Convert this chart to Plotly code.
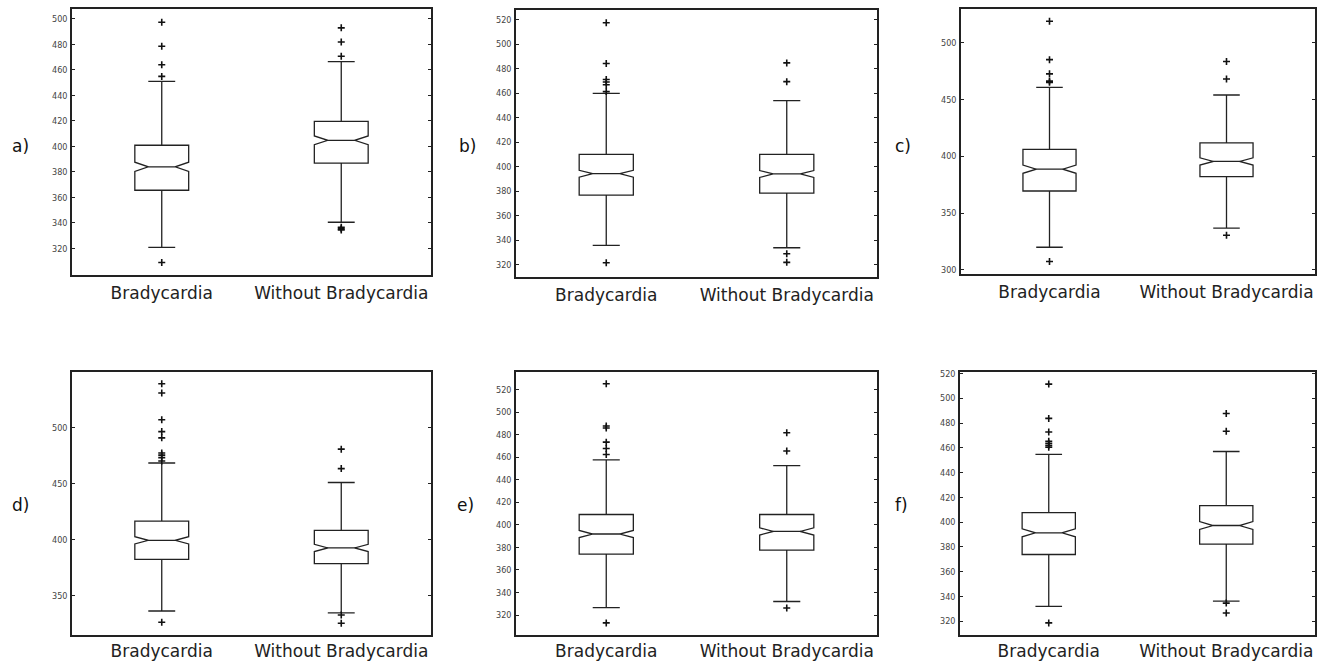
import plotly.graph_objects as go

W, H = 1319, 661

categories = ["Bradycardia", "Without Bradycardia"]
panel_labels = ["a)", "b)", "c)", "d)", "e)", "f)"]

# ---- panel a ----
a_q1 = [365.6, 386.9]
a_median = [384.0, 404.8]
a_q3 = [400.9, 419.6]
a_lower = [320.8, 340.5]
a_upper = [451.0, 466.5]
a_notch = [3.6, 3.4]
a_out_brady = [497.4, 478.5, 464.0, 454.9, 309.0]
a_out_without = [493.0, 481.9, 470.7, 336.6, 335.5, 334.5]
a_ticks = [320, 340, 360, 380, 400, 420, 440, 460, 480, 500]

# ---- panel b ----
b_q1 = [376.7, 378.3]
b_median = [394.2, 394.0]
b_q3 = [409.9, 409.9]
b_lower = [335.7, 333.8]
b_upper = [459.8, 453.9]
b_notch = [2.8, 2.8]
b_out_brady = [517.3, 484.1, 471.1, 469.0, 466.8, 461.2, 321.6]
b_out_without = [484.6, 469.3, 328.9, 321.9]
b_ticks = [320, 340, 360, 380, 400, 420, 440, 460, 480, 500, 520]

# ---- panel c ----
c_q1 = [369.5, 382.1]
c_median = [388.7, 395.5]
c_q3 = [406.2, 411.8]
c_lower = [320.0, 336.9]
c_upper = [460.7, 454.0]
c_notch = [3.6, 3.2]
c_out_brady = [518.9, 485.1, 472.6, 466.2, 465.1, 307.5]
c_out_without = [483.4, 468.0, 330.5]
c_ticks = [300, 350, 400, 450, 500]

# ---- panel d ----
d_q1 = [382.2, 378.4]
d_median = [399.3, 392.5]
d_q3 = [416.4, 408.2]
d_lower = [336.1, 334.4]
d_upper = [468.4, 451.0]
d_notch = [3.2, 3.2]
d_out_brady = [539.3, 531.0, 507.1, 496.5, 490.9, 477.3, 475.5, 473.2, 470.2, 326.0]
d_out_without = [480.8, 463.4, 332.6, 325.2]
d_ticks = [350, 400, 450, 500]

# ---- panel e ----
e_q1 = [374.0, 377.5]
e_median = [391.9, 394.2]
e_q3 = [409.2, 409.2]
e_lower = [326.5, 332.0]
e_upper = [457.6, 452.5]
e_notch = [3.2, 3.2]
e_out_brady = [525.3, 487.7, 486.0, 473.4, 467.8, 462.5, 313.0]
e_out_without = [481.8, 465.5, 326.2]
e_ticks = [320, 340, 360, 380, 400, 420, 440, 460, 480, 500, 520]

# ---- panel f ----
f_q1 = [373.9, 382.2]
f_median = [391.4, 397.3]
f_q3 = [407.7, 413.3]
f_lower = [332.0, 336.3]
f_upper = [454.7, 457.0]
f_notch = [3.2, 3.2]
f_out_brady = [511.4, 483.7, 472.8, 465.3, 463.7, 462.1, 460.5, 318.7]
f_out_without = [487.7, 473.3, 334.7, 326.7]
f_ticks = [320, 340, 360, 380, 400, 420, 440, 460, 480, 500, 520]

panels = [
    (a_q1, a_median, a_q3, a_lower, a_upper, a_notch, [a_out_brady, a_out_without], a_ticks),
    (b_q1, b_median, b_q3, b_lower, b_upper, b_notch, [b_out_brady, b_out_without], b_ticks),
    (c_q1, c_median, c_q3, c_lower, c_upper, c_notch, [c_out_brady, c_out_without], c_ticks),
    (d_q1, d_median, d_q3, d_lower, d_upper, d_notch, [d_out_brady, d_out_without], d_ticks),
    (e_q1, e_median, e_q3, e_lower, e_upper, e_notch, [e_out_brady, e_out_without], e_ticks),
    (f_q1, f_median, f_q3, f_lower, f_upper, f_notch, [f_out_brady, f_out_without], f_ticks),
]

# layout geometry (pixels): left, right, top, bottom of each frame; y range
frames = [
    (72, 431, 5, 273, [299.2, 507.8]),
    (516, 877, 6, 275, [310.0, 527.8]),
    (961, 1315, 5, 272, [296.5, 529.7]),
    (72, 431, 371, 636, [314.5, 549.6]),
    (516, 877, 371, 636, [302.1, 535.5]),
    (960, 1315, 371, 636, [308.8, 521.0]),
]
label_standoff = [2, 2, 2, 0, 0, 0]
label_pos = [(10, 143), (457, 143), (893, 143), (10, 505), (455, 505), (893, 505)]

LINE = "#222222"
fig = go.Figure()
layout = dict(
    width=W, height=H, margin=dict(l=0, r=0, t=0, b=0),
    paper_bgcolor="white", plot_bgcolor="white", showlegend=False,
    font=dict(family="DejaVu Sans", color="#222"),
)
annotations = []

for i, (q1, med, q3, lo, hi, notch, outs, ticks) in enumerate(panels):
    n = "" if i == 0 else str(i + 1)
    xa, ya = "x" + n, "y" + n
    fig.add_trace(go.Box(
        x=categories, q1=q1, median=med, q3=q3, lowerfence=lo, upperfence=hi,
        notched=True, notchspan=notch, notchwidth=0.25, width=0.3, whiskerwidth=0.5,
        boxpoints=False, fillcolor="white", line=dict(color=LINE, width=1.3),
        xaxis=xa, yaxis=ya, hoverinfo="skip",
    ))
    for cat, o in zip(categories, outs):
        fig.add_trace(go.Scatter(
            x=[cat] * len(o), y=o, mode="markers",
            marker=dict(symbol="cross-thin", size=5, line=dict(width=1.6, color="#111")),
            xaxis=xa, yaxis=ya, hoverinfo="skip",
        ))
    L, R, T, B, yr = frames[i]
    layout["xaxis" + n] = dict(
        domain=[L / W, R / W], anchor=ya, type="category",
        categoryorder="array", categoryarray=categories, range=[-0.5, 1.5],
        showline=True, mirror=True, linecolor=LINE, linewidth=1.5,
        ticks="", showgrid=False, zeroline=False,
        tickfont=dict(size=17, family="DejaVu Sans", color="#222"),
        ticklabelstandoff=label_standoff[i],
    )
    layout["yaxis" + n] = dict(
        domain=[1 - B / H, 1 - T / H], anchor=xa, range=yr,
        tickvals=ticks, ticktext=[str(t) for t in ticks],
        showline=True, mirror="ticks", linecolor=LINE, linewidth=1.5,
        ticks="inside", ticklen=3, tickcolor=LINE, tickwidth=1,
        showgrid=False, zeroline=False,
        tickfont=dict(size=9, family="DejaVu Sans Condensed, DejaVu Sans", color="#444"),
        ticklabelstandoff=1,
    )
    lx, ly = label_pos[i]
    annotations.append(dict(
        text=panel_labels[i], xref="paper", yref="paper", x=lx / W, y=1 - ly / H,
        xanchor="left", yanchor="middle", showarrow=False,
        font=dict(size=17, family="DejaVu Sans", color="#111"),
    ))

layout["annotations"] = annotations
fig.update_layout(**layout)
fig.write_html("out.html", config={"displayModeBar": False},
               post_script="document.body.style.margin='0px';")
